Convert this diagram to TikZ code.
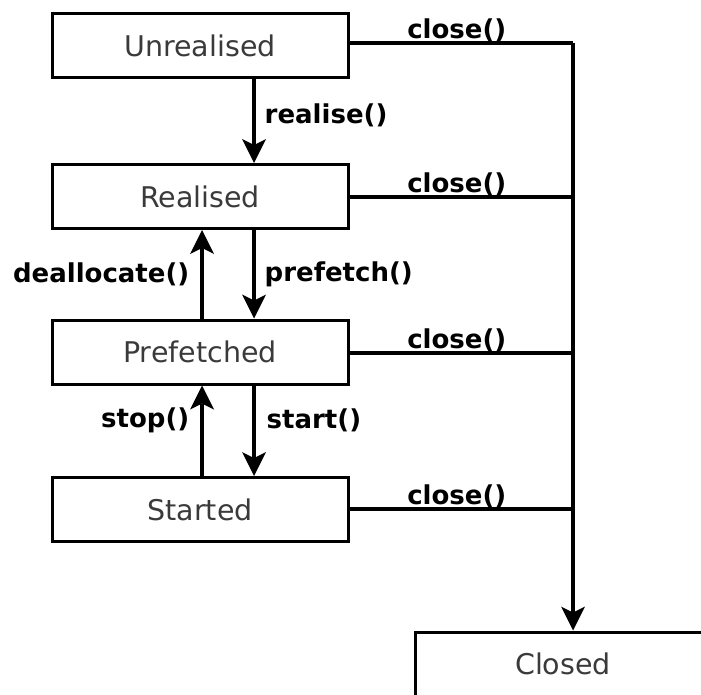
\documentclass[tikz,border=0pt]{standalone}
\usepackage{fontspec}
\setmainfont{DejaVu Sans}
\usetikzlibrary{arrows.meta}
\definecolor{statetext}{RGB}{58,58,58}
\tikzset{
  state/.style={draw=black, line width=3pt, minimum width=296pt, minimum height=64pt,
    inner sep=0pt, text=statetext, font=\fontsize{28.5}{30}\selectfont},
  headtip/.tip={Stealth[length=24pt, width=24pt, inset=6pt, line width=0pt]},
  trans/.style={line width=3.4pt, -headtip},
  wire/.style={line width=3.4pt},
  evt/.style={font=\bfseries\fontsize{26}{28}\selectfont, inner sep=0pt},
}
\begin{document}
\begin{tikzpicture}[x=1pt, y=-1pt]
  \useasboundingbox (0,0) rectangle (701,695);
  \clip (0,0) rectangle (701,695);

  % states
  \node[state] (u) at (200,45.5) {Unrealised};
  \node[state] (r) at (200,196.5) {Realised};
  \node[state] (p) at (200,352) {Prefetched};
  \node[state] (s) at (200,509.5) {Started};
  \node[state] (c) at (563,664) {Closed};

  % junction points on the bus towards Closed
  \coordinate (ju) at (573,43);
  \coordinate (jr) at (573,197);
  \coordinate (jp) at (573,353);
  \coordinate (js) at (573,509);

  % forward transitions
  \draw[trans] ([xshift=54pt]u.south) -- ([xshift=54pt]r.north)
    node[evt, midway, anchor=west, xshift=9pt, yshift=6pt] {realise()};
  \draw[trans] ([xshift=54pt]r.south) -- ([xshift=54pt]p.north)
    node[evt, midway, anchor=west, xshift=9pt, yshift=0pt] {prefetch()};
  \draw[trans] ([xshift=54pt]p.south) -- ([xshift=54pt]s.north)
    node[evt, midway, anchor=west, xshift=11pt, yshift=10pt] {start()};

  % backward transitions
  \draw[trans] ([xshift=2pt]p.north) -- ([xshift=2pt]r.south)
    node[evt, midway, anchor=east, xshift=-11pt, yshift=0pt] {deallocate()};
  \draw[trans] ([xshift=2pt]s.north) -- ([xshift=2pt]p.south)
    node[evt, midway, anchor=east, xshift=-11pt, yshift=10pt] {stop()};

  % close() from every state
  \draw[wire] (u.east |- ju) -- (ju)
    node[evt, pos=0.48, anchor=south, yshift=-1pt] {close()};
  \draw[wire] (r.east |- jr) -- (jr)
    node[evt, pos=0.48, anchor=south, yshift=-1pt] {close()};
  \draw[wire] (p.east |- jp) -- (jp)
    node[evt, pos=0.48, anchor=south, yshift=-1pt] {close()};
  \draw[wire] (s.east |- js) -- (js)
    node[evt, pos=0.48, anchor=south, yshift=-1pt] {close()};
  \draw[trans] (ju) -- (ju |- c.north);
\end{tikzpicture}
\end{document}
